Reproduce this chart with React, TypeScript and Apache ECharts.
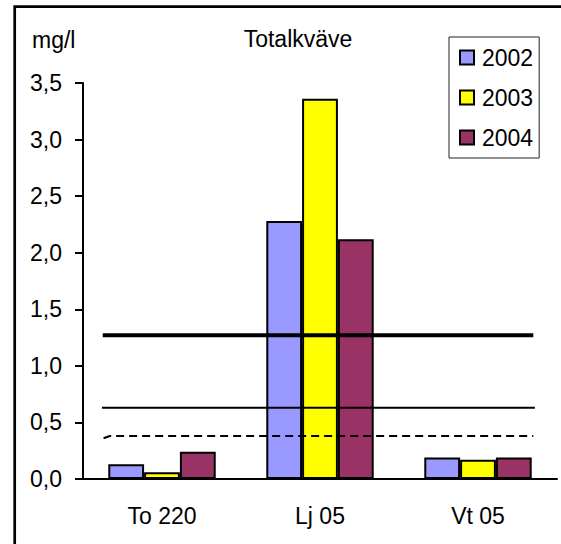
import React, { useEffect, useRef } from "react";
import * as echarts from "echarts";

// Stations and yearly mean total nitrogen (mg/l)
const categories = ["To 220", "Lj 05", "Vt 05"];
const years = ["2002", "2003", "2004"];
const values2002 = [0.13, 2.28, 0.19];
const values2003 = [0.06, 3.36, 0.17];
const values2004 = [0.24, 2.12, 0.19];
const yearColors = ["#9999FF", "#FFFF00", "#993366"];

// Reference levels, drawn across the stations on a 0..3 category-width scale
const levelHigh = [[0.125, 1.27], [2.85, 1.27]];
const levelMid = [[0.12, 0.63], [2.86, 0.63]];
const levelLow = [[0.13, 0.36], [0.17, 0.38], [2.85, 0.38]];

const yTicks = { min: 0, max: 3.5, interval: 0.5 };

const FONT = "Liberation Sans, Arial, sans-serif";
const FS = 23;

export default function App() {
  const ref = useRef<HTMLDivElement>(null);

  useEffect(() => {
    if (!ref.current) return;
    const chart = echarts.init(ref.current, null, { renderer: "svg" });
    const seriesValues = [values2002, values2003, values2004];

    chart.setOption({
      animation: false,
      backgroundColor: "#ffffff",
      textStyle: { fontFamily: FONT, color: "#000" },
      grid: { left: 83, right: 4, top: 83, bottom: 65, containLabel: false },
      legend: {
        orient: "vertical",
        left: 449,
        top: 37,
        padding: [9, 6, 9, 10],
        itemGap: 17,
        itemWidth: 14,
        itemHeight: 14,
        borderColor: "#222",
        borderWidth: 1,
        backgroundColor: "#fff",
        icon: "rect",
        data: years,
        textStyle: { fontSize: FS, lineHeight: 23, fontFamily: FONT, color: "#000", padding: [0, 0, 0, 3] },
      },
      graphic: [
        {
          type: "rect",
          shape: { x: 14.7, y: 6.7, width: 700, height: 700 },
          style: { fill: "none", stroke: "#000", lineWidth: 2.7 },
          silent: true,
        },
        {
          type: "text",
          x: 32,
          y: 40,
          style: { text: "mg/l", font: `${FS}px ${FONT}`, fill: "#000", textVerticalAlign: "middle" },
        },
        {
          type: "text",
          x: 298,
          y: 39,
          style: {
            text: "Totalkväve",
            font: `${FS}px ${FONT}`,
            fill: "#000",
            textAlign: "center",
            textVerticalAlign: "middle",
          },
        },
      ],
      xAxis: [
        {
          type: "category",
          data: categories,
          axisLine: { lineStyle: { color: "#000", width: 2 } },
          axisTick: { show: false },
          axisLabel: { fontSize: FS, color: "#000", margin: 25, fontFamily: FONT },
          splitLine: { show: false },
        },
        { type: "value", min: 0, max: 3, show: false },
      ],
      yAxis: {
        type: "value",
        min: yTicks.min,
        max: yTicks.max,
        interval: yTicks.interval,
        axisLine: { show: true, lineStyle: { color: "#000", width: 2 } },
        axisTick: { show: true, length: 8, lineStyle: { color: "#000", width: 2 } },
        axisLabel: {
          fontSize: FS,
          color: "#000",
          margin: 21,
          fontFamily: FONT,
          formatter: (v: number) => v.toFixed(1).replace(".", ","),
        },
        splitLine: { show: false },
      },
      series: [
        ...years.map((y, i) => ({
          name: y,
          type: "bar",
          data: seriesValues[i],
          barGap: "0%",
          barCategoryGap: "32%",
          itemStyle: { color: yearColors[i], borderColor: "#000", borderWidth: 2 },
        })),
        {
          type: "line",
          xAxisIndex: 1,
          data: levelHigh,
          symbol: "none",
          lineStyle: { color: "#000", width: 4 },
          z: 5,
        },
        {
          type: "line",
          xAxisIndex: 1,
          data: levelMid,
          symbol: "none",
          lineStyle: { color: "#000", width: 2 },
          z: 5,
        },
        {
          type: "line",
          xAxisIndex: 1,
          data: levelLow,
          symbol: "none",
          lineStyle: { color: "#000", width: 2, type: [8, 5] },
          z: 5,
        },
      ],
    });

    return () => chart.dispose();
  }, []);

  return <div ref={ref} style={{ width: 561, height: 544, position: "absolute", left: 0, top: 0 }} />;
}
